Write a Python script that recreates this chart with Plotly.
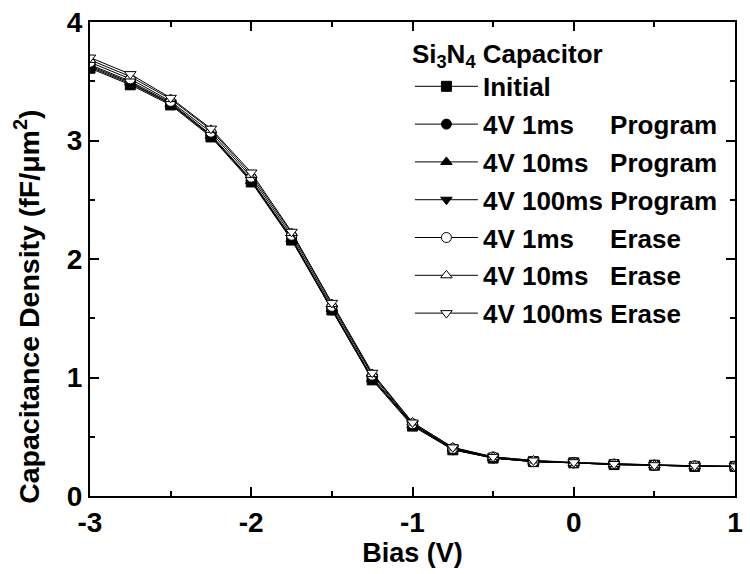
import plotly.graph_objects as go

bias = [-3, -2.75, -2.5, -2.25, -2, -1.75, -1.5, -1.25, -1, -0.75, -0.5, -0.25, 0, 0.25, 0.5, 0.75, 1]

initial = [3.61, 3.47, 3.30, 3.03, 2.65, 2.16, 1.57, 0.98, 0.59, 0.39, 0.32, 0.29, 0.28, 0.265, 0.26, 0.25, 0.25]
prog_1ms = [3.62, 3.48, 3.31, 3.04, 2.66, 2.17, 1.57, 0.99, 0.60, 0.39, 0.32, 0.29, 0.28, 0.265, 0.26, 0.25, 0.25]
prog_10ms = [3.63, 3.49, 3.31, 3.04, 2.66, 2.17, 1.58, 0.99, 0.60, 0.40, 0.32, 0.29, 0.28, 0.265, 0.26, 0.25, 0.25]
prog_100ms = [3.64, 3.50, 3.32, 3.05, 2.67, 2.18, 1.58, 1.00, 0.61, 0.40, 0.32, 0.29, 0.28, 0.265, 0.26, 0.25, 0.25]
erase_1ms = [3.66, 3.52, 3.33, 3.07, 2.69, 2.20, 1.60, 1.02, 0.61, 0.40, 0.33, 0.29, 0.28, 0.27, 0.26, 0.255, 0.25]
erase_10ms = [3.68, 3.54, 3.35, 3.09, 2.71, 2.22, 1.62, 1.03, 0.62, 0.41, 0.33, 0.30, 0.28, 0.27, 0.26, 0.255, 0.25]
erase_100ms = [3.70, 3.56, 3.36, 3.10, 2.73, 2.23, 1.63, 1.04, 0.62, 0.41, 0.33, 0.30, 0.285, 0.27, 0.26, 0.255, 0.25]

x_ticks = [-3, -2, -1, 0, 1]
x_ticktext = ["-3", "-2", "-1", "0", "1"]
y_ticks = [0, 1, 2, 3, 4]
y_ticktext = ["0", "1", "2", "3", "4"]

NB = "\u00a0"
series = [
    ("Initial", initial, "square", "black"),
    ("4V 1ms" + NB * 5 + "Program", prog_1ms, "circle", "black"),
    ("4V 10ms" + NB * 3 + "Program", prog_10ms, "triangle-up", "black"),
    ("4V 100ms Program", prog_100ms, "triangle-down", "black"),
    ("4V 1ms" + NB * 5 + "Erase", erase_1ms, "circle", "white"),
    ("4V 10ms" + NB * 3 + "Erase", erase_10ms, "triangle-up", "white"),
    ("4V 100ms Erase", erase_100ms, "triangle-down", "white"),
]

FONT = "Liberation Sans, Arial, sans-serif"

fig = go.Figure()
for i, (name, vals, sym, fill) in enumerate(series):
    fig.add_trace(go.Scatter(
        x=bias, y=vals, name=name, mode="lines+markers",
        line=dict(color="black", width=1),
        marker=dict(symbol=sym, size=10, color=fill, line=dict(color="black", width=1)),
        legendgroup=f"g{i}",
    ))

axis_common = dict(
    showline=True, linecolor="black", linewidth=2, mirror="ticks",
    ticks="inside", ticklen=9, tickwidth=1.5, tickcolor="black",
    showgrid=False, zeroline=False,
    tickfont=dict(family=FONT, size=28, color="black", weight="bold"),
    minor=dict(ticks="inside", ticklen=5, tickwidth=1.5, tickcolor="black", dtick=0.5, showgrid=False),
)

fig.update_layout(
    width=750, height=574,
    margin=dict(l=90, r=7, t=22, b=78),
    paper_bgcolor="white", plot_bgcolor="white",
    xaxis=dict(range=[-3, 1], tickmode="array", tickvals=x_ticks, ticktext=x_ticktext,
               title=dict(text="Bias (V)", font=dict(family=FONT, size=27, color="black", weight="bold"), standoff=0),
               **axis_common),
    yaxis=dict(range=[0, 4], tickmode="array", tickvals=y_ticks, ticktext=y_ticktext,
               **axis_common),
    legend=dict(
        x=0.496, y=0.985, xanchor="left", yanchor="top",
        bgcolor="rgba(0,0,0,0)", borderwidth=0,
        font=dict(family=FONT, size=26, color="black", weight="bold"),
        title=dict(text="Si<sub>3</sub>N<sub>4</sub> Capacitor", font=dict(family=FONT, size=26, color="black", weight="bold")),
        tracegroupgap=1, itemwidth=63,
    ),
    annotations=[dict(
        text="Capacitance Density (fF/\u03bcm<sup>2</sup>)",
        textangle=-90, xref="paper", yref="paper", x=-0.097, y=0.40,
        xanchor="center", yanchor="middle", showarrow=False,
        font=dict(family=FONT, size=28.5, color="black", weight="bold"),
    )],
    showlegend=True,
)

fig.write_html("out.html")
